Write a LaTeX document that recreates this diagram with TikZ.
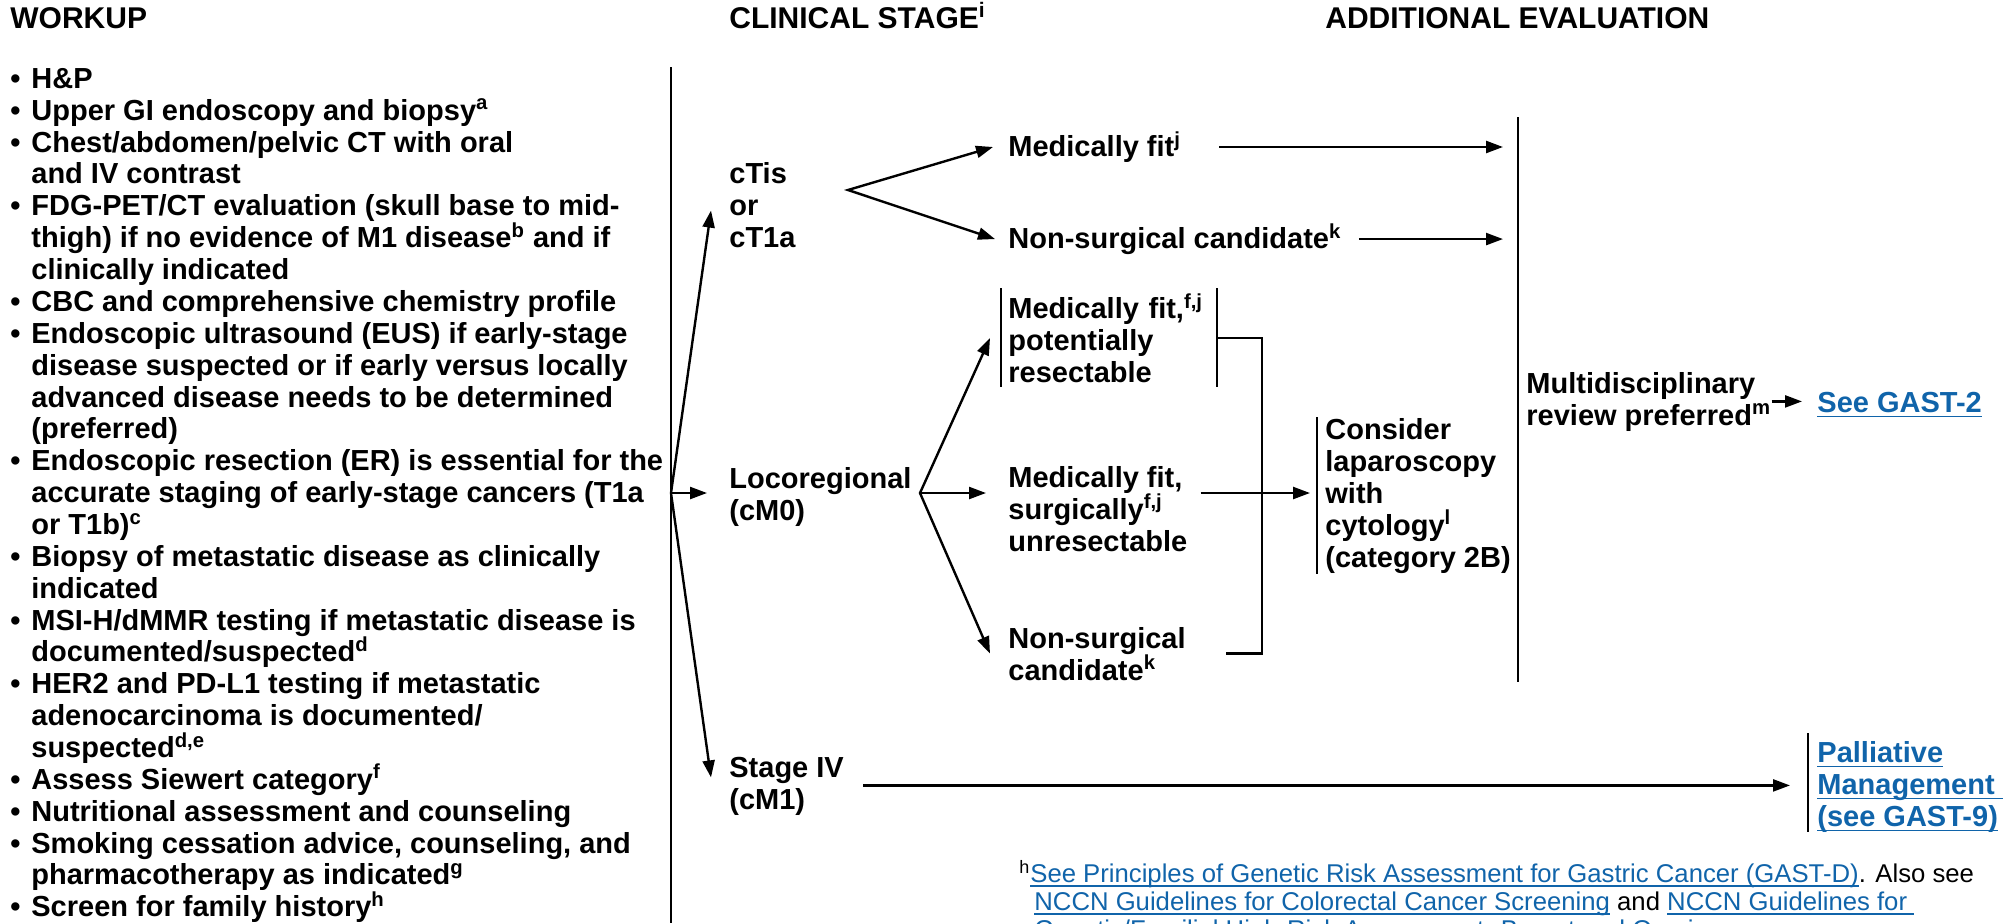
\documentclass[tikz,border=0pt]{standalone}
\usepackage{fontspec}
\setmainfont{Liberation Sans}
\usetikzlibrary{arrows.meta,calc}

\definecolor{linkblue}{RGB}{16,100,170}
\newcommand{\lnk}[1]{{\color{linkblue}\setbox0\hbox{#1}\rlap{\rule[-2.5pt]{\wd0}{0.9pt}}\box0}}
\newcommand{\itm}{\makebox[10.5pt][l]{•}}
\newcommand{\ind}{\hspace*{10.5pt}}
\newcommand{\sups}[1]{\textsuperscript{#1}}
\newcommand{\tp}{\rule{0pt}{11pt}}

\tikzset{
  head/.style={font={\fontsize{15}{18}\selectfont\bfseries}, inner sep=0pt, anchor=base west},
  body/.style={font={\fontsize{14.5}{15.93}\selectfont\bfseries\lineskiplimit=-20pt}, inner sep=0pt, anchor=north west, align=left},
  stage/.style={font={\fontsize{14.5}{16}\selectfont\bfseries\lineskiplimit=-20pt}, inner sep=0pt, anchor=north west, align=left},
  note/.style={font={\fontsize{12.85}{14}\selectfont\lineskiplimit=-20pt}, inner sep=0pt, anchor=north west, align=left},
  rule/.style={line width=1.2pt},
  arr/.style={line width=1.2pt, -{Triangle[length=8.5pt,width=6pt]}},
  dbl/.style={line width=1.2pt, {Triangle[length=8.5pt,width=6pt]}-{Triangle[length=8.5pt,width=6pt]}}
}

\begin{document}
\begin{tikzpicture}[x=0.5pt,y=-0.5pt]
    \useasboundingbox (0,0) rectangle (2015,923);

    % Column heads
    \node (hwork) at (10,28) [head] {WORKUP};
    \node (hstage) at (729,28) [head] {CLINICAL STAGE\sups{i}};
    \node (heval) at (1325,28) [head] {ADDITIONAL EVALUATION};

    % Workup list
    \node (work) at (10,66) [body] {\tp\itm H\&P\\
      \itm Upper GI endoscopy and biopsy\sups{a}\\
      \itm Chest/abdomen/pelvic CT with oral\\
      \ind and IV contrast\\
      \itm FDG-PET/CT evaluation (skull base to mid-\\
      \ind thigh) if no evidence of M1 disease\sups{b} and if\\
      \ind clinically indicated\\
      \itm CBC and comprehensive chemistry profile\\
      \itm Endoscopic ultrasound (EUS) if early-stage\\
      \ind disease suspected or if early versus locally\\
      \ind advanced disease needs to be determined\\
      \ind (preferred)\\
      \itm Endoscopic resection (ER) is essential for the\\
      \ind accurate staging of early-stage cancers (T1a\\
      \ind or T1b)\sups{c}\\
      \itm Biopsy of metastatic disease as clinically\\
      \ind indicated\\
      \itm MSI-H/dMMR testing if metastatic disease is\\
      \ind documented/suspected\sups{d}\\
      \itm HER2 and PD-L1 testing if metastatic\\
      \ind adenocarcinoma is documented/\\
      \ind suspected\sups{d,e}\\
      \itm Assess Siewert category\sups{f}\\
      \itm Nutritional assessment and counseling\\
      \itm Smoking cessation advice, counseling, and\\
      \ind pharmacotherapy as indicated\sups{g}\\
      \itm Screen for family history\sups{h}};

    % Divider after workup
    \coordinate (wtop) at (671,67);
    \coordinate (wbot) at (671,923);
    \coordinate (wfan) at (671,493);
    \draw [rule] (wtop) -- (wbot);

    % Clinical stages
    \node (ctis) at (729,161) [stage] {\tp cTis\\or\\cT1a};
    \node (loco) at (729,466) [stage] {\tp Locoregional\\(cM0)};
    \node (stg4) at (729,755) [stage] {\tp Stage IV\\(cM1)};
    \draw [arr] (wfan) -- ([xshift=-9pt,yshift=-3pt]ctis.west);
    \draw [arr] (wfan) -- ($(wfan -| loco.west)+(-22,0)$);
    \draw [arr] (wfan) -- ([xshift=-9pt,yshift=4pt]stg4.west);

    % cTis or cT1a branch
    \coordinate (cfork) at (848,190);
    \node (mfit) at (1008,131) [stage] {\tp Medically fit\sups{j}};
    \node (nsc) at (1008,223) [stage] {\tp Non-surgical candidate\sups{k}};
    \draw [dbl] ([xshift=-7.5pt]mfit.west) -- (cfork) -- ([xshift=-6.5pt]nsc.west);

    % Locoregional branch
    \coordinate (lfork) at (920,493);
    \node (mfr) at (1008,293) [stage, text width=104pt] {\tp Medically fit,\sups{f,j}\\potentially\\resectable};
    \node (mfu) at (1008,465) [stage] {\tp Medically fit,\\surgically\sups{f,j}\\unresectable};
    \node (ns2) at (1008,626) [stage] {\tp Non-surgical\\candidate\sups{k}};
    \draw [dbl] ([xshift=-9pt]mfr.west) -- (lfork) -- ([xshift=-9pt]ns2.west);
    \draw [arr] (lfork) -- ($(lfork -| mfu.west)+(-22,0)$);
    \draw [rule] ($(mfr.north west)+(-7,-5)$) -- ($(mfr.south west)+(-7,4)$);
    \draw [rule] ($(mfr.north east)+(0,-5)$) -- ($(mfr.south east)+(0,4)$);

    % Bracket to laparoscopy
    \coordinate (brk) at (1262,333);
    \draw [rule] (mfr.east) -| (brk |- ns2.east) -- ($(ns2.east)+(40,0)$);
    \node (cons) at (1325,417) [stage] {\tp Consider\\laparoscopy\\with\\cytology\sups{l}\\(category 2B)};
    \draw [rule] ($(cons.north west)+(-8,0)$) -- ($(cons.south west)+(-8,0)$);
    \draw [arr] ($(lfork -| mfu.east)+(13,0)$) -- ($(lfork -| cons.west)+(-15,0)$);

    % Multidisciplinary review
    \coordinate (mtop) at (1518,117);
    \coordinate (mbot) at (1518,682);
    \draw [rule] (mtop) -- (mbot);
    \draw [arr] ([xshift=19pt]mfit.east) -- ($(mfit.east -| mtop)+(-15,0)$);
    \draw [arr] ([xshift=8.5pt]nsc.east) -- ($(nsc.east -| mtop)+(-15,0)$);
    \node (multi) at (1526,371) [stage] {\tp Multidisciplinary\\review preferred\sups{m}};
    \node (see) at (1817,390) [stage] {\tp\lnk{See GAST-2}};
    \draw [arr] (multi.east) -- ($(multi.east -| see.west)+(-15,0)$);

    % Stage IV to palliative
    \coordinate (ptop) at (1808,733);
    \coordinate (pbot) at (1808,832);
    \draw [rule] (ptop) -- (pbot);
    \node (pall) at (1817,740) [stage] {\tp\lnk{Palliative}\\\lnk{Management\ }\\\lnk{(see GAST-9)}};
    \draw [arr] ([xshift=9.5pt]stg4.east) -- ($(stg4.east -| ptop)+(-18,0)$);

    % Footnote
    \node (fnote) at (1030,860) [note] {\rule{0pt}{10pt}\llap{\sups{h}}\lnk{See Principles of Genetic Risk Assessment for Gastric Cancer (GAST-D)}. Also see\\
      \hspace*{2pt}\lnk{NCCN Guidelines for Colorectal Cancer Screening} and \lnk{NCCN Guidelines for\ }\\
      \hspace*{2pt}\lnk{Genetic/Familial High-Risk Assessment: Breast and Ovarian}};
\end{tikzpicture}
\end{document}
